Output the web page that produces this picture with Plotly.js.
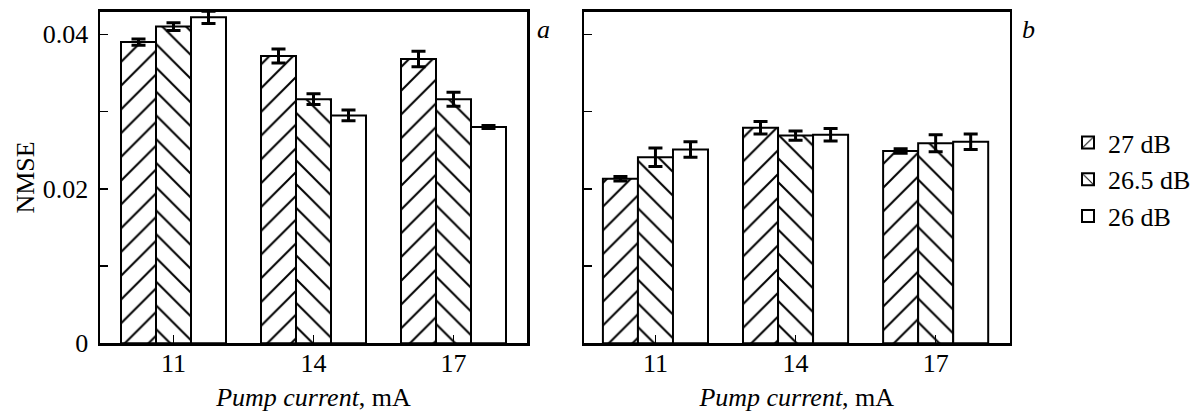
<!DOCTYPE html>
<html>
<head>
<meta charset="utf-8">
<script src="https://cdn.plot.ly/plotly-3.0.1.min.js"></script>
<style>html,body{margin:0;padding:0;background:#fff;}#chart{width:1201px;height:412px;}</style>
</head>
<body>
<div id="chart"></div>
<script>
const currents = ['11', '14', '17'];
const seriesNames = ['27 dB', '26.5 dB', '26 dB'];
const yTickVals = [0, 0.01, 0.02, 0.03, 0.04];
const yTickText = ['0', '', '0.02', '', '0.04'];

// panel a
const a27 = [0.0390, 0.0372, 0.0368];
const a27err = [0.0004, 0.0009, 0.0010];
const a265 = [0.0410, 0.0316, 0.0316];
const a265err = [0.0005, 0.0007, 0.0009];
const a26 = [0.0422, 0.0295, 0.0280];
const a26err = [0.0008, 0.0007, 0.0002];
// panel b
const b27 = [0.0213, 0.0279, 0.0249];
const b27err = [0.0003, 0.0008, 0.0003];
const b265 = [0.0241, 0.0269, 0.0259];
const b265err = [0.0012, 0.0006, 0.0011];
const b26 = [0.0251, 0.0270, 0.0261];
const b26err = [0.0010, 0.0008, 0.0010];

const FONT = 'Liberation Serif, Times New Roman, serif';
const FS = 26;
const shapes = ['/', '\\', ''];
const panelA = [[a27, a27err], [a265, a265err], [a26, a26err]];
const panelB = [[b27, b27err], [b265, b265err], [b26, b26err]];

function mk(vals, errs, i, xa, ya, showLeg) {
  const m = {color: 'white', line: {color: 'black', width: 2}};
  if (shapes[i]) {
    m.pattern = {shape: shapes[i], fgcolor: 'black', bgcolor: 'white', size: 16.8, solidity: 0.12, fillmode: 'replace'};
  }
  return {
    type: 'bar', x: currents, y: vals, name: seriesNames[i],
    xaxis: xa, yaxis: ya, marker: m, legendgroup: 'g' + i, showlegend: showLeg,
    error_y: {type: 'data', array: errs, visible: true, color: 'black', thickness: 3, width: 7}
  };
}
const traces = [];
panelA.forEach((p, i) => traces.push(mk(p[0], p[1], i, 'x', 'y', true)));
panelB.forEach((p, i) => traces.push(mk(p[0], p[1], i, 'x2', 'y2', false)));

const yDom = [(412 - 343.3) / 412, (412 - 11.7) / 412];
const axBase = {
  showline: true, linecolor: 'black', linewidth: 2.5, mirror: true,
  ticks: 'inside', ticklen: 8, tickwidth: 1.5, tickcolor: 'black',
  showgrid: false, zeroline: false, fixedrange: true,
  tickfont: {family: FONT, size: FS, color: 'black'}
};
const xTitle = {text: '<i>Pump current</i>, mA', font: {family: FONT, size: FS, color: 'black'}, standoff: 15};

const layout = {
  width: 1201, height: 412,
  margin: {l: 0, r: 0, t: 0, b: 0},
  paper_bgcolor: 'white', plot_bgcolor: 'white',
  barmode: 'group', bargap: 0.25, bargroupgap: 0,
  font: {family: FONT, size: FS, color: 'black'},
  xaxis: Object.assign({}, axBase, {domain: [100 / 1201, 527 / 1201], type: 'category', range: [-0.525, 2.525], anchor: 'y', title: xTitle, ticklabelstandoff: -5}),
  yaxis: Object.assign({}, axBase, {domain: yDom, range: [0, 0.04293], anchor: 'x', tickvals: yTickVals, ticktext: yTickText, ticklabelstandoff: 4,
    title: {text: 'NMSE', font: {family: FONT, size: FS, color: 'black'}, standoff: 1}}),
  xaxis2: Object.assign({}, axBase, {domain: [584 / 1201, 1009.5 / 1201], type: 'category', range: [-0.51, 2.527], anchor: 'y2', title: xTitle, ticklabelstandoff: -5}),
  yaxis2: Object.assign({}, axBase, {domain: yDom, range: [0, 0.04293], anchor: 'x2', tickvals: yTickVals, showticklabels: false}),
  legend: {x: 1068 / 1201, y: (412 - 119) / 412, xanchor: 'left', yanchor: 'top', font: {family: FONT, size: FS, color: 'black'},
    bgcolor: 'rgba(0,0,0,0)', tracegroupgap: 0, itemclick: false},
  annotations: [
    {text: '<i>a</i>', xref: 'paper', yref: 'paper', x: 543 / 1201, y: (412 - 30) / 412, xanchor: 'center', yanchor: 'middle', showarrow: false, font: {family: FONT, size: FS, color: 'black'}},
    {text: '<i>b</i>', xref: 'paper', yref: 'paper', x: 1028 / 1201, y: (412 - 30) / 412, xanchor: 'center', yanchor: 'middle', showarrow: false, font: {family: FONT, size: FS, color: 'black'}}
  ]
};
Plotly.newPlot('chart', traces, layout, {displayModeBar: false, staticPlot: true});
</script>
</body>
</html>
